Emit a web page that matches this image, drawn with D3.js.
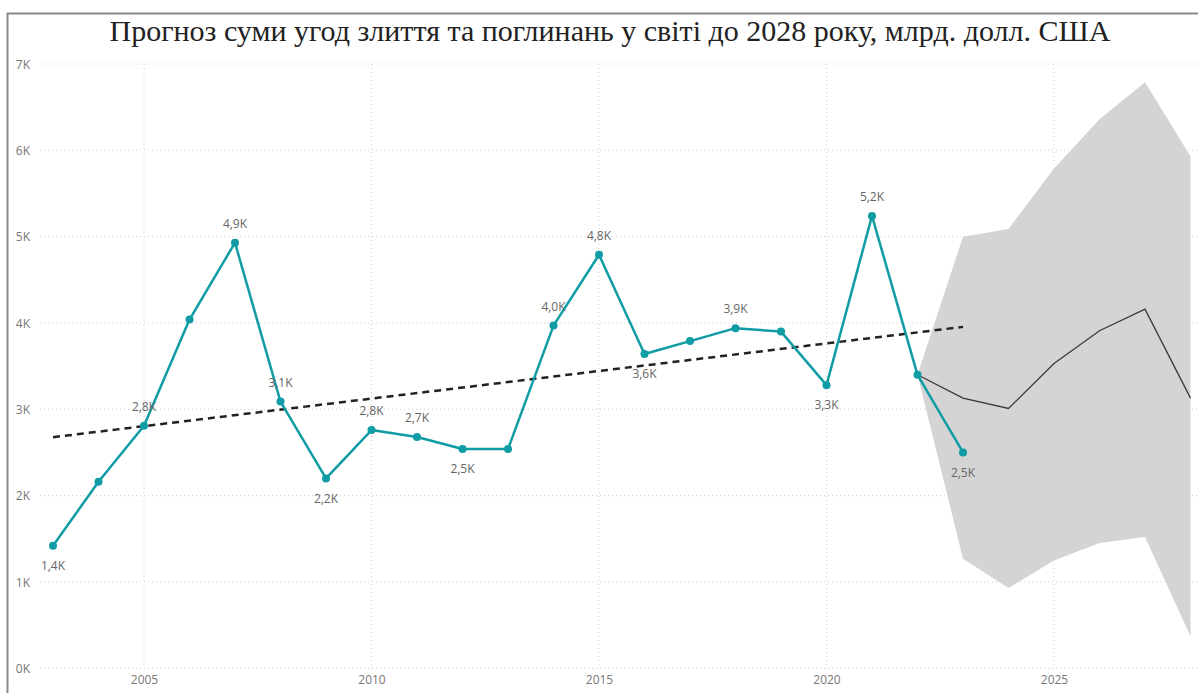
<!DOCTYPE html>
<html>
<head>
<meta charset="utf-8">
<script src="https://cdn.jsdelivr.net/npm/d3@7"></script>
<style>
  html, body { margin: 0; padding: 0; background: #fff; }
  svg { display: block; }
</style>
</head>
<body>
<svg id="chart" width="1198" height="693"></svg>
<script>
// ---------- data ----------
const titleText = "Прогноз суми угод злиття та поглинань у світі до 2028 року, млрд. долл. США";
const years = [2003,2004,2005,2006,2007,2008,2009,2010,2011,2012,2013,2014,2015,2016,2017,2018,2019,2020,2021,2022,2023];
const values = [1420,2160,2810,4040,4930,3090,2200,2760,2680,2540,2540,3970,4790,3640,3790,3940,3900,3280,5240,3400,2500];
const labelPlacement = ["below","","above","","above","above","below","above","above","below","","above","above","below","","above","","below","above","","below"];
const forecastYears = [2022,2023,2024,2025,2026,2027,2028];
const forecastValues = [3400,3130,3010,3530,3910,4160,3130];
const forecastUpper = [3400,5000,5090,5790,6360,6790,5930];
const forecastLower = [3400,1270,930,1250,1450,1520,370];
const trendYears = [2003,2023];
const trendValues = [2677,3955];
const yTicks = [0,1000,2000,3000,4000,5000,6000,7000];
const xTicks = [2005,2010,2015,2020,2025];

// ---------- layout ----------
const svg = d3.select("#chart");
const W = 1198, H = 693;
const x = d3.scaleLinear().domain([2003, 2028]).range([53, 1190.5]);
const y = d3.scaleLinear().domain([0, 7000]).range([668.3, 64]);
const gridLeft = 40, gridRight = 1198;

const teal = "#0f9ca5";
const fmtK = v => (v/1000).toFixed(1).replace(".", ",") + "K";

// frame
svg.append("path")
  .attr("d", `M7.5,${H} L7.5,13.5 L${W},13.5`)
  .attr("fill", "none").attr("stroke", "#8a8a8a").attr("stroke-width", 2);

// title
svg.append("text")
  .attr("x", 610).attr("y", 41)
  .attr("text-anchor", "middle")
  .attr("font-family", "'Liberation Serif', 'Times New Roman', serif")
  .attr("font-size", 30)
  .attr("fill", "#222")
  .text(titleText);

// gridlines
const grid = svg.append("g");
grid.selectAll("line.h").data(yTicks).enter().append("line")
  .attr("x1", gridLeft).attr("x2", gridRight)
  .attr("y1", d => y(d)).attr("y2", d => y(d))
  .attr("stroke", "#cfcfcf").attr("stroke-width", 1).attr("stroke-dasharray", "1,3");
grid.selectAll("line.v").data(xTicks).enter().append("line")
  .attr("x1", d => x(d)).attr("x2", d => x(d))
  .attr("y1", y(7000)).attr("y2", y(0))
  .attr("stroke", "#cfcfcf").attr("stroke-width", 1).attr("stroke-dasharray", "1,3");

// axes
const yAxis = d3.axisLeft(y).tickValues(yTicks).tickSize(0).tickPadding(0)
  .tickFormat(d => (d/1000) + "K");
const gy = svg.append("g").attr("transform", "translate(30,0)").call(yAxis);
gy.select(".domain").remove();
gy.selectAll("text").attr("font-family", "'Open Sans', 'Segoe UI', sans-serif")
  .attr("font-size", 12).attr("fill", "#777").attr("dy", "0.35em");

const xAxis = d3.axisBottom(x).tickValues(xTicks).tickSize(0).tickPadding(0)
  .tickFormat(d3.format("d"));
const gx = svg.append("g").attr("transform", "translate(0,675)").call(xAxis);
gx.select(".domain").remove();
gx.selectAll("text").attr("font-family", "'Open Sans', 'Segoe UI', sans-serif")
  .attr("font-size", 12).attr("fill", "#777").attr("dy", "0.71em");

// forecast band
const band = forecastYears.map((yr, i) => ({yr, lo: forecastLower[i], hi: forecastUpper[i]}));
svg.append("path").datum(band)
  .attr("d", d3.area().x(d => x(d.yr)).y0(d => y(d.lo)).y1(d => y(d.hi)))
  .attr("fill", "#d4d4d4");

// forecast line
svg.append("path").datum(forecastYears.map((yr, i) => ({yr, v: forecastValues[i]})))
  .attr("d", d3.line().x(d => x(d.yr)).y(d => y(d.v)))
  .attr("fill", "none").attr("stroke", "#3a3a3a").attr("stroke-width", 1.3);

// trend line
svg.append("path").datum(trendYears.map((yr, i) => ({yr, v: trendValues[i]})))
  .attr("d", d3.line().x(d => x(d.yr)).y(d => y(d.v)))
  .attr("fill", "none").attr("stroke", "#222").attr("stroke-width", 2.5)
  .attr("stroke-dasharray", "7,5");

// main line
const pts = years.map((yr, i) => ({yr, v: values[i], lab: labelPlacement[i]}));
svg.append("path").datum(pts)
  .attr("d", d3.line().x(d => x(d.yr)).y(d => y(d.v)))
  .attr("fill", "none").attr("stroke", teal).attr("stroke-width", 2.5)
  .attr("stroke-linejoin", "round");
svg.selectAll("circle.pt").data(pts).enter().append("circle")
  .attr("cx", d => x(d.yr)).attr("cy", d => y(d.v)).attr("r", 4)
  .attr("fill", teal);

// data labels
svg.selectAll("text.lab").data(pts.filter(d => d.lab)).enter().append("text")
  .attr("x", d => x(d.yr))
  .attr("y", d => y(d.v) + (d.lab === "above" ? -19 : 20))
  .attr("dy", "0.35em")
  .attr("text-anchor", "middle")
  .attr("font-family", "'Open Sans', 'Segoe UI', sans-serif")
  .attr("font-size", 12).attr("fill", "#666")
  .text(d => fmtK(d.v));
</script>
</body>
</html>
